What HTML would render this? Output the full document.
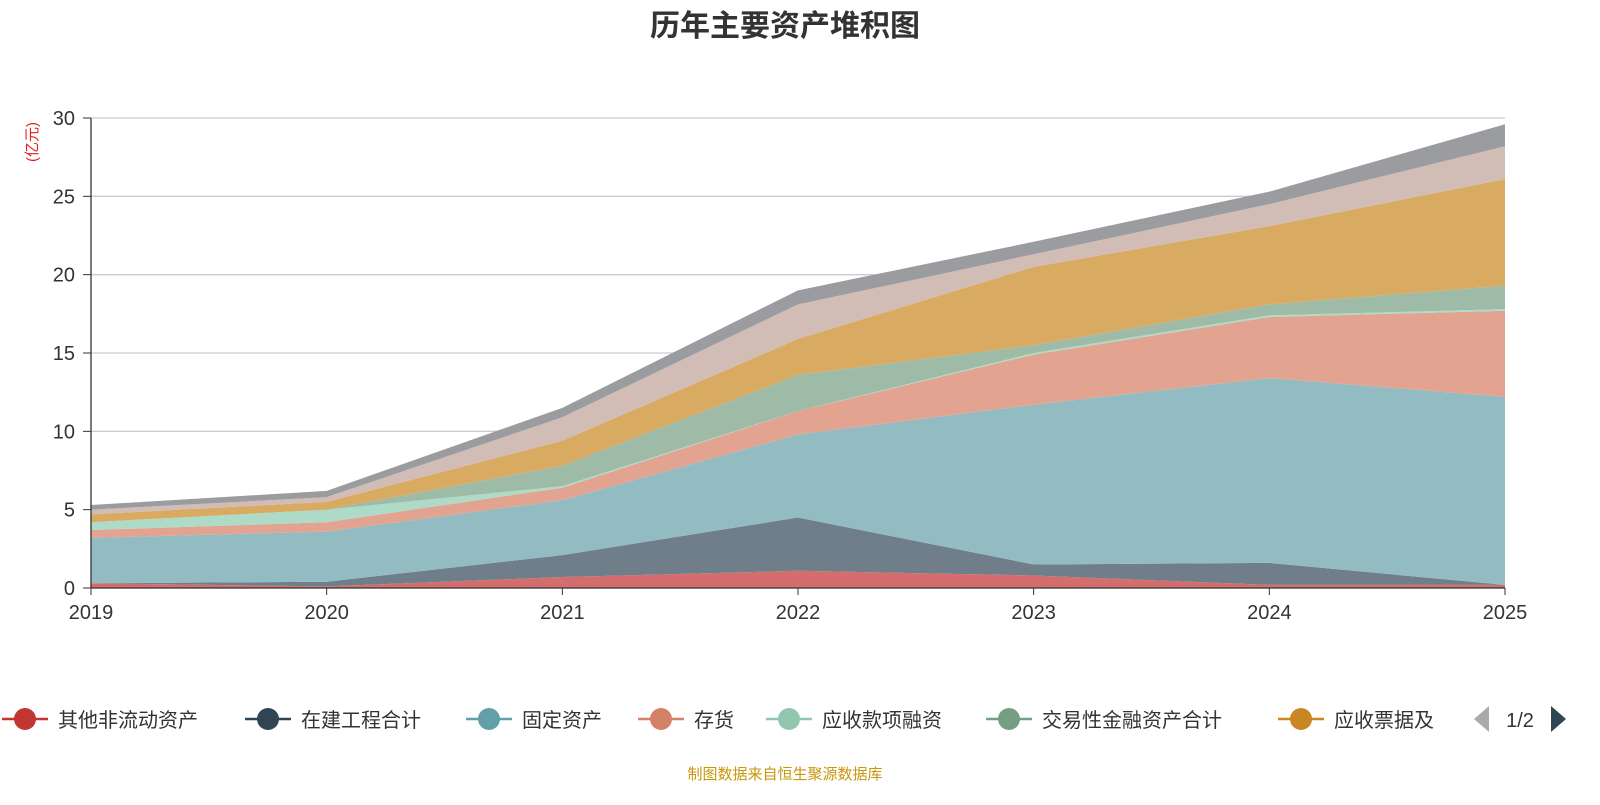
<!DOCTYPE html>
<html><head><meta charset="utf-8">
<style>
body{margin:0;width:1600px;height:800px;background:#fff;overflow:hidden;font-family:"Liberation Sans","Noto Sans CJK SC",sans-serif;}
svg text{font-family:"Liberation Sans","Noto Sans CJK SC",sans-serif;}
</style></head>
<body>
<svg id="chart" width="1600" height="800">
<text x="785" y="36" text-anchor="middle" font-size="30" font-weight="bold" fill="#333">历年主要资产堆积图</text>
<text transform="translate(37,142) rotate(-90)" text-anchor="middle" font-size="15" fill="#e02020">(亿元)</text>
<g id="grid"></g>
<g id="areas"></g>
<g id="axes"></g>
<g id="legend"></g>
<text x="785" y="779" text-anchor="middle" font-size="15" fill="#c8960a">制图数据来自恒生聚源数据库</text>
</svg>
<script>
const years=['2019','2020','2021','2022','2023','2024','2025'];
const seriesNames=['其他非流动资产','在建工程合计','固定资产','存货','应收款项融资','交易性金融资产合计','应收票据及','其他1','其他2'];
const s0=[0.3,0.1,0.7,1.1,0.8,0.2,0.2];
const s1=[0.0,0.3,1.4,3.4,0.7,1.4,0.0];
const s2=[2.9,3.2,3.5,5.3,10.2,11.8,12.0];
const s3=[0.5,0.6,0.8,1.5,3.2,3.9,5.5];
const s4=[0.5,0.8,0.1,0.0,0.1,0.1,0.1];
const s5=[0.0,0.0,1.3,2.3,0.5,0.7,1.5];
const s6=[0.5,0.5,1.6,2.3,5.0,5.0,6.8];
const s7=[0.3,0.3,1.5,2.2,0.8,1.4,2.1];
const s8=[0.3,0.4,0.6,0.9,0.8,0.8,1.4];
const yTicks=[0,5,10,15,20,25,30];
const fills=['#d46e6c','#6f7e89','#92bbc2','#e2a490','#aedbc8','#9dbba7','#d8aa62','#d2bdb6','#9b9c9f'];
const legendColors=['#c23531','#2f4554','#61a0a8','#d48265','#91c7ae','#749f83','#ca8622'];
const series=[s0,s1,s2,s3,s4,s5,s6,s7,s8];
const NS='http://www.w3.org/2000/svg';
const X0=91,X1=1505,Y0=588,Y1=118;
const xs=i=>X0+(X1-X0)*i/(years.length-1);
const ys=v=>Y0-(Y0-Y1)*v/30;
function mk(tag,attrs,parent){const e=document.createElementNS(NS,tag);for(const k in attrs)e.setAttribute(k,attrs[k]);parent.appendChild(e);return e;}
const grid=document.getElementById('grid'),areas=document.getElementById('areas'),axes=document.getElementById('axes'),legend=document.getElementById('legend');
yTicks.forEach(t=>{
 const l=mk('line',{x1:X0,x2:X1,y1:ys(t),y2:ys(t),stroke:'#ccc','stroke-width':1.3},grid);
 
 
 const tk=mk('line',{x1:X0-8,x2:X0,y1:ys(t),y2:ys(t),stroke:'#333'},axes);
 
 
 const tx=mk('text',{x:X0-16,y:ys(t)+7,'text-anchor':'end','font-size':20,fill:'#333'},axes);
 tx.textContent=t;
 
 
});
let cum=years.map(()=>0);
series.forEach((s,k)=>{
 const lower=cum.slice();
 cum=cum.map((c,i)=>c+s[i]);
 let d='M'+years.map((_,i)=>xs(i)+','+ys(cum[i])).join('L');
 for(let i=years.length-1;i>=0;i--)d+='L'+xs(i)+','+ys(lower[i]);
 const p=mk('path',{d:d+'Z',fill:fills[k]},areas);
 
 
});
const ax=mk('line',{x1:X0,x2:X1,y1:Y0,y2:Y0,stroke:'#333','stroke-width':1.3},axes);


const ay=mk('line',{x1:X0,x2:X0,y1:Y1,y2:Y0,stroke:'#333','stroke-width':1.3},axes);


years.forEach((y,i)=>{
 const tk=mk('line',{x1:xs(i),x2:xs(i),y1:Y0,y2:Y0+7,stroke:'#333'},axes);
 
 
 const tx=mk('text',{x:xs(i),y:Y0+31,'text-anchor':'middle','font-size':20,fill:'#333'},axes);
 tx.textContent=y;
 
 
});
const lx=[2,245,466,638,766,986,1278];
for(let k=0;k<7;k++){
 const g=mk('g',{},legend);
 
 
 mk('line',{x1:lx[k],x2:lx[k]+46,y1:719,y2:719,stroke:legendColors[k],'stroke-width':2.5},g);
 mk('circle',{cx:lx[k]+23,cy:719,r:11,fill:legendColors[k]},g);
 const t=mk('text',{x:lx[k]+56,y:727,'font-size':20,fill:'#333'},g);
 t.textContent=seriesNames[k];
}
const pl=mk('path',{d:'M1474,719L1489,706L1489,732Z',fill:'#aaa'},legend);


const pt=mk('text',{x:1520,y:727,'font-size':20,'text-anchor':'middle',fill:'#333'},legend);
pt.textContent='1/2';


const pn=mk('path',{d:'M1566,719L1551,706L1551,732Z',fill:'#2f4554'},legend);


</script>
</body></html>
